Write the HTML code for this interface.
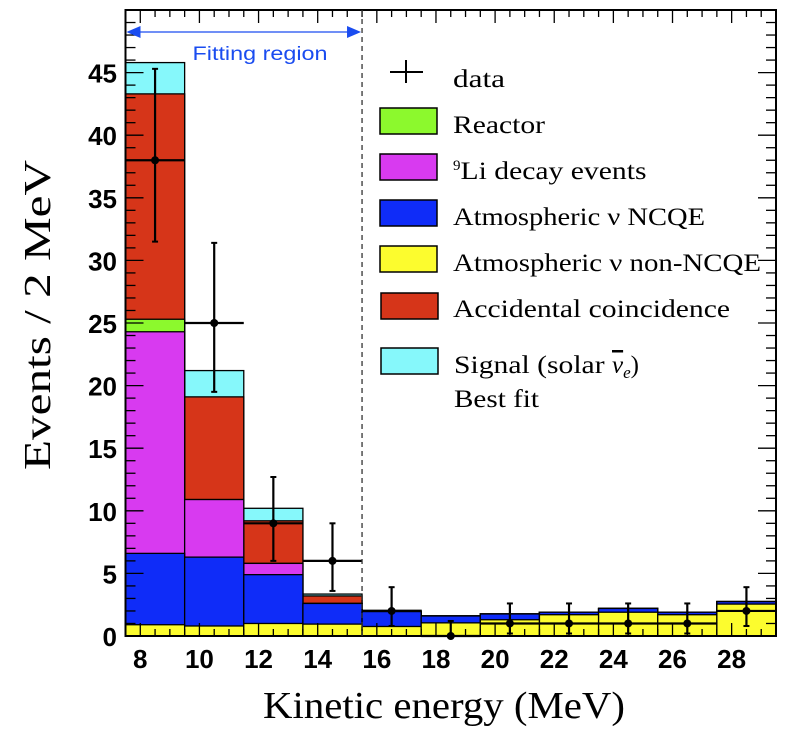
<!DOCTYPE html>
<html><head><meta charset="utf-8"><style>
body{margin:0;background:#fff;width:790px;height:730px;overflow:hidden}
svg{display:block}
.tk{font-family:"Liberation Sans",sans-serif;font-weight:bold;font-size:26px}
.lg{font-family:"Liberation Serif","DejaVu Serif",serif;font-size:25px}
</style></head><body>
<svg id="c" width="790" height="730"></svg>
<script>
const binEdgesLow=[7.5,9.5,11.5,13.5,15.5,17.5,19.5,21.5,23.5,25.5,27.5];
const yellowTop=[0.9,0.8,1.0,0.95,0.76,1.05,1.3,1.7,1.9,1.7,2.55];
const blueTop=[6.6,6.3,4.9,2.6,1.95,1.6,1.76,1.9,2.2,1.9,2.75];
const magentaTop=[24.3,10.9,5.8,2.6,1.95,1.6,1.76,1.9,2.2,1.9,2.75];
const greenTop=[25.3,10.9,5.8,2.6,1.95,1.6,1.76,1.9,2.2,1.9,2.75];
const redTop=[43.3,19.1,9.2,3.2,1.95,1.6,1.76,1.9,2.2,1.9,2.75];
const cyanTop=[45.8,21.2,10.2,3.35,2.05,1.6,1.76,1.9,2.2,1.9,2.75];
const dataVal=[38,25,9,6,2,0,1,1,1,1,2];
const errLo=[31.5,19.5,6,3.6,0.8,0,0.2,0.2,0.2,0.2,0.8];
const errHi=[45.3,31.4,12.7,9,3.9,1.2,2.6,2.6,2.6,2.6,3.9];
const xTicks=[8,10,12,14,16,18,20,22,24,26,28];
const yTicks=[0,5,10,15,20,25,30,35,40,45];
const L=125.5,R=776,T=10,B=636,XMIN=7.5,XMAX=29.5,YMAX=50;
const X=v=>L+(v-XMIN)/(XMAX-XMIN)*(R-L);
const Y=v=>B-v/YMAX*(B-T);
const NS='http://www.w3.org/2000/svg';
const svg=document.getElementById('c');
function mk(t,a,p){const e=document.createElementNS(NS,t);for(const k in a)e.setAttribute(k,a[k]);(p||svg).appendChild(e);return e;}
const layers=[[cyanTop,'#86f8fb','cyan'],[redTop,'#d63519','red'],[greenTop,'#8cf92d','green'],[magentaTop,'#d83af0','magenta'],[blueTop,'#0f2cf8','blue'],[yellowTop,'#fcfc2e','yellow']];
layers.forEach(([arr,col,nm])=>{
  arr.forEach((v,i)=>{
    const x0=X(binEdgesLow[i]),x1=X(binEdgesLow[i]+2);
    const r=mk('rect',{x:x0,y:Y(v),width:x1-x0,height:B-Y(v),fill:col,stroke:'#000','stroke-width':1.3});
    
    
  });
});
const fr=mk('rect',{x:L,y:T,width:R-L,height:B-T,fill:'none',stroke:'#000','stroke-width':2});

for(let v=XMIN+0.5;v<XMAX;v+=0.5){const len=(Math.abs(v%2)<1e-6)?13:7;
 mk('line',{x1:X(v),x2:X(v),y1:B,y2:B-len,stroke:'#000','stroke-width':1.3});
 mk('line',{x1:X(v),x2:X(v),y1:T,y2:T+len,stroke:'#000','stroke-width':1.3});}
for(let v=1;v<YMAX;v++){const len=(v%5==0)?18:10;
 mk('line',{x1:L,x2:L+len,y1:Y(v),y2:Y(v),stroke:'#000','stroke-width':1.3});
 mk('line',{x1:R,x2:R-len,y1:Y(v),y2:Y(v),stroke:'#000','stroke-width':1.3});}
xTicks.forEach(v=>{const t=mk('text',{x:X(v),y:668,'text-anchor':'middle',class:'tk'});t.textContent=v;
 });
yTicks.forEach(v=>{const t=mk('text',{x:117,y:Y(v)+10,'text-anchor':'end',class:'tk'});t.textContent=v;
 });
dataVal.forEach((v,i)=>{
  const c=X(binEdgesLow[i]+1),x0=X(binEdgesLow[i]),x1=X(binEdgesLow[i]+2);
  const g=mk('g',{});
  
  
  mk('line',{x1:x0,x2:x1,y1:Y(v),y2:Y(v),stroke:'#000','stroke-width':2.2},g);
  mk('line',{x1:c,x2:c,y1:Y(errLo[i]),y2:Y(errHi[i]),stroke:'#000','stroke-width':2.2},g);
  mk('line',{x1:c-3,x2:c+3,y1:Y(errHi[i]),y2:Y(errHi[i]),stroke:'#000','stroke-width':2},g);
  if(errLo[i]>0)mk('line',{x1:c-3,x2:c+3,y1:Y(errLo[i]),y2:Y(errLo[i]),stroke:'#000','stroke-width':2},g);
  mk('circle',{cx:c,cy:Y(v),r:4,fill:'#000'},g);
});
const dl=mk('line',{x1:X(15.5),x2:X(15.5),y1:T,y2:B,stroke:'#333','stroke-width':1.3,'stroke-dasharray':'5,4'});

const ar=mk('g',{});
mk('line',{x1:L+10,x2:X(15.5)-10,y1:32,y2:32,stroke:'#1a4cf0','stroke-width':1.3},ar);
mk('polygon',{points:`${L+1},32 ${L+15},26 ${L+15},38`,fill:'#1a4cf0'},ar);
mk('polygon',{points:`${X(15.5)-1},32 ${X(15.5)-15},26 ${X(15.5)-15},38`,fill:'#1a4cf0'},ar);
</script>
<svg width="790" height="730" style="position:absolute;left:0;top:0">
<text x="260" y="60" text-anchor="middle" fill="#1a4cf0" textLength="135" lengthAdjust="spacingAndGlyphs" style="font-family:'Liberation Sans',sans-serif;font-size:19px">Fitting region</text>
<g>
<g><line x1="390" x2="423" y1="72" y2="72" stroke="#000" stroke-width="2"/><line x1="406" x2="406" y1="60" y2="83" stroke="#000" stroke-width="2"/><text x="453" y="87" class="lg" textLength="52" lengthAdjust="spacingAndGlyphs">data</text></g>
<g><rect x="380" y="108" width="57" height="26" fill="#8cf92d" stroke="#000" stroke-width="1.5"/><text x="453" y="133" class="lg" textLength="92" lengthAdjust="spacingAndGlyphs">Reactor</text></g>
<g><rect x="380" y="154" width="57" height="26" fill="#d83af0" stroke="#000" stroke-width="1.5"/><text x="453" y="179" class="lg"><tspan font-size="15" dy="-9">9</tspan><tspan dy="9" textLength="186" lengthAdjust="spacingAndGlyphs">Li decay events</tspan></text></g>
<g><rect x="380" y="200" width="57" height="26" fill="#0f2cf8" stroke="#000" stroke-width="1.5"/><text x="453" y="225" class="lg" textLength="252" lengthAdjust="spacingAndGlyphs">Atmospheric ν NCQE</text></g>
<g><rect x="380" y="246" width="57" height="26" fill="#fcfc2e" stroke="#000" stroke-width="1.5"/><text x="453" y="271" class="lg" textLength="308" lengthAdjust="spacingAndGlyphs">Atmospheric ν non-NCQE</text></g>
<g><rect x="381" y="293" width="57" height="26" fill="#d63519" stroke="#000" stroke-width="1.5"/><text x="453" y="317" class="lg" textLength="277" lengthAdjust="spacingAndGlyphs">Accidental coincidence</text></g>
<g><rect x="381" y="348" width="57" height="26" fill="#86f8fb" stroke="#000" stroke-width="1.5"/><text x="454" y="373" style="font-family:'Liberation Serif',serif;font-size:25px"><tspan textLength="158" lengthAdjust="spacingAndGlyphs">Signal (solar </tspan><tspan font-style="italic" text-decoration="overline">ν</tspan><tspan font-style="italic" style="font-size:17px" dy="5">e</tspan><tspan dy="-5">)</tspan></text><text x="454" y="407" class="lg" textLength="85" lengthAdjust="spacingAndGlyphs">Best fit</text></g>
</g>
<text x="444" y="718" text-anchor="middle" textLength="362" lengthAdjust="spacingAndGlyphs" style="font-family:'Liberation Serif',serif;font-size:38px">Kinetic energy (MeV)</text>
<text transform="translate(50,315) rotate(-90)" text-anchor="middle" textLength="310" lengthAdjust="spacingAndGlyphs" style="font-family:'Liberation Serif',serif;font-size:38px">Events / 2 MeV</text>
</svg>
</body></html>
